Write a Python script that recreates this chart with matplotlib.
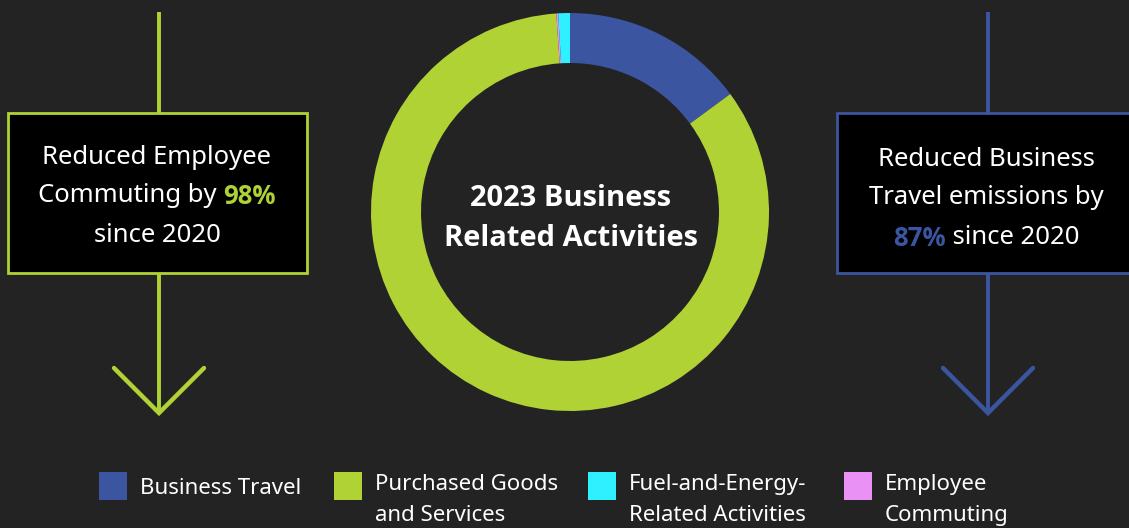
import matplotlib.pyplot as plt
from matplotlib.patches import Rectangle

# data
categories = ["Business Travel", "Purchased Goods\nand Services",
              "Fuel-and-Energy-\nRelated Activities", "Employee\nCommuting"]
shares = [14.9, 84.0, 0.95, 0.15]
colors = ["#3b55a0", "#b0d235", "#2ef0ff", "#e991f5"]
# drawing order round the ring (clockwise from the top)
ring_order = [0, 1, 3, 2]
center_title = "2023 Business\nRelated Activities"
left_note = ["Reduced Employee", "Commuting by ", "98%", "since 2020"]
right_note = ["Reduced Business", "Travel emissions by", "87%", " since 2020"]

BG = "#232323"
W, H = 1129, 528
plt.rcParams['font.family'] = ['Noto Sans', 'DejaVu Sans']
BOLD = ['Open Sans', 'DejaVu Sans']

fig = plt.figure(figsize=(W / 100, H / 100), dpi=100, facecolor=BG)
ax = fig.add_axes([0, 0, 1, 1])
ax.set_facecolor(BG)


def py(y):
    # pixel row -> data y
    return H - y


ax.pie([shares[i] for i in ring_order], colors=[colors[i] for i in ring_order],
       startangle=90, counterclock=False, center=(570, py(212)), radius=199,
       wedgeprops=dict(width=50, linewidth=0))
ax.set_xlim(0, W)
ax.set_ylim(0, H)
ax.set_aspect('equal')
ax.axis('off')

ax.text(571, py(218), center_title, ha='center', va='center', color='white',
        fontsize=21, fontweight='bold', family=BOLD, linespacing=1.5)


def arrow_line(x, col):
    ax.plot([x, x], [py(12), py(113)], color=col, lw=2.8, solid_capstyle='butt')
    ax.plot([x, x], [py(273), py(412)], color=col, lw=2.8, solid_capstyle='butt')
    ax.plot([x - 45, x, x + 45], [py(368), py(413), py(368)], color=col, lw=3.2,
            solid_capstyle='round', solid_joinstyle='miter')


arrow_line(159, colors[1])
arrow_line(988, colors[0])

ax.add_patch(Rectangle((8, py(273)), 299, 160, facecolor='black',
                       edgecolor=colors[1], lw=2))
ax.add_patch(Rectangle((837, py(273)), 299, 160, facecolor='black',
                       edgecolor=colors[0], lw=2, clip_on=False))

fs = 18.5
ax.text(157, py(158), left_note[0], ha='center', va='center', color='white', fontsize=fs)
ax.text(157, py(235), left_note[3], ha='center', va='center', color='white', fontsize=fs)
ax.text(986, py(159), right_note[0], ha='center', va='center', color='white', fontsize=fs)
ax.text(986, py(198), right_note[1], ha='center', va='center', color='white', fontsize=fs)

fig.canvas.draw()
r = fig.canvas.get_renderer()


def two_part(cx, y, a, b, ca, cb, wa, wb):
    ta = ax.text(0, py(y), a, ha='left', va='center', color=ca, fontsize=fs, fontweight=wa,
                 family=BOLD if wa == 'bold' else None)
    tb = ax.text(0, py(y), b, ha='left', va='center', color=cb, fontsize=fs, fontweight=wb,
                 family=BOLD if wb == 'bold' else None)
    inv = ax.transData.inverted()
    wa_ = ta.get_window_extent(r).width
    wb_ = tb.get_window_extent(r).width
    # convert pixel widths to data units
    sx = inv.transform((wa_, 0))[0] - inv.transform((0, 0))[0]
    sb = inv.transform((wb_, 0))[0] - inv.transform((0, 0))[0]
    x0 = cx - (sx + sb) / 2
    ta.set_x(x0)
    tb.set_x(x0 + sx)


two_part(157, 196, left_note[1], left_note[2], 'white', colors[1], 'normal', 'bold')
two_part(986, 238, right_note[2], right_note[3], colors[0], 'white', 'bold', 'normal')

# legend
leg_x = [99, 334, 588, 844]
for i, lab in enumerate(categories):
    ax.add_patch(Rectangle((leg_x[i], py(500)), 28, 28, facecolor=colors[i], lw=0))
    if '\n' in lab:
        ax.text(leg_x[i] + 41, py(474), lab, ha='left', va='top',
                color='white', fontsize=16, linespacing=1.65)
    else:
        ax.text(leg_x[i] + 41, py(489), lab, ha='left', va='center',
                color='white', fontsize=16)

fig.savefig("out.png", dpi=100, facecolor=BG)
